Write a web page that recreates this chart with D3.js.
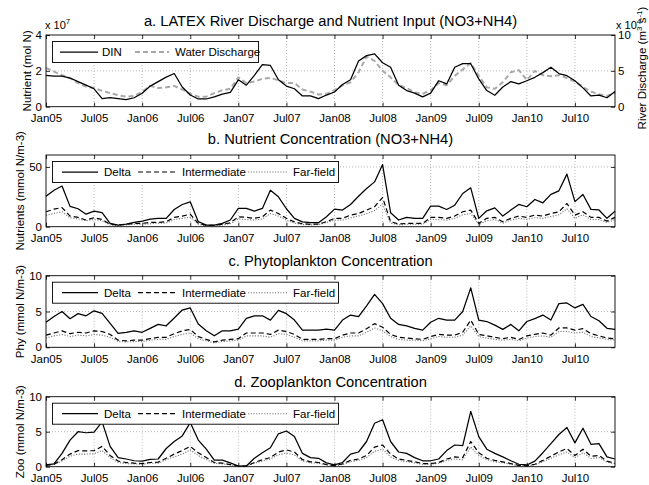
<!DOCTYPE html>
<html>
<head>
<meta charset="utf-8">
<script src="https://cdn.jsdelivr.net/npm/d3@7"></script>
<style>
  body { margin: 0; background: #fff; }
  text { font-family: "Liberation Sans", Arial, Helvetica, sans-serif; fill: #000; }
</style>
</head>
<body>
<svg id="chart" width="649" height="485"></svg>
<script>
// Monthly series, Jan 2005 – Dec 2010 (72 months)
const tickMonths = [0, 6, 12, 18, 24, 30, 36, 42, 48, 54, 60, 66];
const tickLabels = ["Jan05", "Jul05", "Jan06", "Jul06", "Jan07", "Jul07",
                    "Jan08", "Jul08", "Jan09", "Jul09", "Jan10", "Jul10"];

// a. DIN input (x10^7 mol N) and river discharge (x10^4 m3 s-1)
const dinFlux = [
  1.75, 1.7, 1.7, 1.6, 1.4, 1.2, 1.0, 0.45, 0.5, 0.45, 0.4, 0.5,
  0.75, 1.15, 1.4, 1.65, 1.85, 1.1, 0.65, 0.43, 0.43, 0.55, 0.7, 0.8,
  1.5, 1.2, 1.75, 2.35, 2.3, 1.5, 1.15, 1.0, 0.6, 0.6, 0.45, 0.65,
  0.82, 1.24, 1.5, 2.55, 2.85, 2.95, 2.45, 2.2, 1.2, 0.9, 0.76, 0.55,
  0.76, 1.45, 1.27, 2.2, 2.4, 2.4, 1.55, 0.9, 0.64, 1.1, 1.4, 1.27,
  1.45, 1.64, 1.9, 2.2, 1.85, 1.73, 1.45, 1.05, 0.6, 0.65, 0.5, 0.85
];
const waterDischarge = [
  5.4, 4.9, 4.4, 4.0, 3.3, 2.8, 2.6, 2.2, 1.9, 1.6, 1.4, 1.5,
  2.1, 2.9, 2.6, 2.7, 2.9, 2.4, 1.8, 1.4, 1.4, 1.9, 2.3, 2.5,
  4.1, 3.3, 3.5, 3.9, 4.0, 3.7, 3.3, 3.3, 2.4, 2.1, 1.7, 1.8,
  2.3, 3.0, 3.4, 4.8, 7.0, 6.4, 5.0, 4.1, 3.0, 2.6, 2.0, 1.8,
  2.3, 3.3, 3.0, 4.3, 5.2, 6.1, 4.3, 2.7, 2.5, 3.4, 4.8, 5.1,
  3.7, 5.0, 4.4, 4.25, 4.4, 4.0, 3.5, 2.75, 2.1, 1.75, 1.5, 1.9
];

// b. Nutrient concentration (mmol N m-3)
const nutDelta = [
  25.5, 30.5, 34, 17, 15, 10.5, 13, 11.7, 2.8, 1.4, 2.2, 3.6,
  4.7, 6.4, 7, 7, 14.4, 18.6, 20.8, 4.2, 1.4, 1.4, 2.8, 5.6,
  15.3, 15.3, 13, 15.3, 30.5, 25, 15, 7, 4, 3.4, 3.4, 8.3,
  14.7, 13.9, 18.6, 25.5, 32, 37.5, 52, 11.7, 5.6, 7.8, 7, 7,
  17.2, 17.2, 14.4, 18, 27.8, 32.5, 7, 13.3, 15.8, 8.9, 13.9, 18.6,
  16.7, 22.8, 20, 27, 30, 44, 21, 27, 14.5, 14, 7, 13
];
const nutInter = [
  12.5, 14.7, 16, 8.9, 7.8, 5.6, 7.5, 6.1, 2, 1.4, 2, 2.8,
  2.8, 3.6, 3.6, 4.2, 7.8, 8.9, 10.5, 2.8, 1.1, 1.1, 2, 3.3,
  8.3, 7.8, 7, 8.3, 13.9, 11, 7, 4, 2.5, 2, 2.2, 4.2,
  7, 7, 9.7, 11, 13.9, 16.7, 24.4, 4.2, 2.2, 2.8, 2.8, 2.8,
  7.8, 7.8, 7, 8.9, 12.5, 13.9, 2.8, 7, 7.8, 4.2, 7, 8.9,
  7.8, 9.7, 8.9, 11, 12.5, 19.4, 9.7, 12.5, 7.8, 7.8, 4.7, 7.8
];
const nutFar = [
  9.5, 11, 12.5, 7.5, 6.5, 5, 6, 5, 1.5, 1, 1.5, 2,
  2, 2.5, 3, 3, 6, 7, 8, 2, 0.8, 0.8, 1.5, 2.5,
  6.5, 6, 5.5, 6.5, 11, 9, 5.5, 3, 1.8, 1.5, 1.8, 3.5,
  5.5, 5.5, 7.5, 9, 11, 13.5, 19, 3, 1.5, 2, 2, 2,
  6, 6, 5.5, 7, 10, 11, 1.8, 5, 6, 3, 5.5, 7,
  6, 7.5, 7, 8.5, 10, 15, 7, 10, 6, 6, 3.5, 6
];

// c. Phytoplankton concentration (mmol N m-3)
const phyDelta = [
  3.5, 4.3, 5.0, 4.0, 4.7, 4.4, 5.1, 4.75, 3.35, 1.95, 2.1, 2.3,
  2.1, 2.65, 3.2, 3.0, 4.1, 5.2, 5.5, 3.25, 2.3, 1.6, 2.3, 2.3,
  2.55, 4.05, 4.4, 4.4, 3.8, 5.15, 4.7, 3.8, 2.4, 2.4, 2.4, 2.55,
  2.4, 3.8, 4.5, 4.3, 5.8, 7.4, 6.1, 4.05, 3.2, 3.0, 2.65, 2.4,
  3.5, 4.05, 3.8, 3.8, 5.0, 8.3, 3.8, 3.6, 3.1, 2.5, 3.2, 2.3,
  3.6, 4.0, 4.5, 3.8, 6.1, 6.2, 5.5, 6.0, 4.3, 3.7, 2.65, 2.5
];
const phyInter = [
  1.7, 2.0, 2.3, 1.9, 2.1, 2.0, 2.3, 2.2, 1.8, 1.0, 0.9, 1.0,
  1.0, 1.2, 1.4, 1.4, 1.9, 2.3, 2.5, 1.5, 1.1, 0.75, 1.0, 1.1,
  1.2, 2.0, 2.0, 2.0, 1.8, 2.4, 2.2, 1.8, 1.1, 1.1, 1.1, 1.2,
  1.2, 1.7, 2.0, 2.0, 2.6, 3.3, 2.8, 1.8, 1.4, 1.3, 1.2, 1.1,
  1.5, 1.8, 1.7, 1.7, 2.1, 3.8, 1.8, 1.6, 1.4, 1.2, 1.4, 1.1,
  1.6, 1.8, 2.0, 1.7, 2.7, 2.7, 2.4, 2.6, 1.9, 1.6, 1.3, 1.2
];
const phyFar = [
  1.3, 1.6, 1.8, 1.5, 1.7, 1.6, 1.8, 1.7, 1.4, 0.8, 0.75, 0.8,
  0.8, 1.0, 1.1, 1.1, 1.5, 1.8, 2.0, 1.2, 0.9, 0.6, 0.8, 0.9,
  1.0, 1.6, 1.6, 1.6, 1.4, 1.9, 1.8, 1.4, 0.9, 0.9, 0.9, 1.0,
  1.0, 1.4, 1.6, 1.6, 2.1, 2.7, 2.3, 1.5, 1.1, 1.0, 1.0, 0.9,
  1.2, 1.5, 1.4, 1.4, 1.7, 3.0, 1.5, 1.3, 1.1, 1.0, 1.1, 0.9,
  1.3, 1.5, 1.6, 1.4, 2.2, 2.2, 2.0, 2.1, 1.5, 1.3, 1.1, 1.0
];

// d. Zooplankton concentration (mmol N m-3)
const zooDelta = [
  0.25, 0.4, 1.9, 3.8, 5.0, 4.85, 4.95, 6.4, 2.9, 1.3, 1.1, 0.85,
  0.8, 1.05, 1.1, 2.6, 3.6, 4.4, 6.3, 3.8, 2.5, 0.95, 0.95, 0.55,
  0.1, 0.1, 1.2, 2.0, 2.7, 4.7, 5.1, 4.3, 1.9, 1.3, 1.2, 0.55,
  0.25, 0.6, 1.8, 2.1, 3.6, 6.2, 6.7, 3.6, 2.1, 1.9, 1.3, 0.85,
  0.85, 1.1, 2.3, 3.1, 3.0, 7.9, 4.3, 2.5, 1.9, 1.4, 0.85, 0.35,
  0.25, 0.8, 2.0, 3.3, 4.6, 5.6, 3.4, 5.5, 3.2, 3.3, 1.4, 1.1
];
const zooInter = [
  0.2, 0.35, 1.0, 1.8, 2.3, 2.25, 2.3, 2.9, 1.6, 0.8, 0.6, 0.5,
  0.45, 0.6, 0.65, 1.2, 1.8, 2.3, 2.9, 2.0, 1.3, 0.6, 0.5, 0.3,
  0.1, 0.1, 0.6, 1.0, 1.3, 2.1, 2.4, 2.1, 1.0, 0.7, 0.6, 0.3,
  0.15, 0.4, 0.9, 1.1, 1.6, 2.8, 3.1, 1.8, 1.1, 0.9, 0.7, 0.45,
  0.45, 0.6, 1.1, 1.4, 1.3, 3.6, 2.0, 1.2, 0.9, 0.7, 0.45, 0.2,
  0.15, 0.35, 0.9, 1.5, 2.1, 2.6, 1.6, 2.5, 1.5, 1.6, 0.8, 0.5
];
const zooFar = [
  0.15, 0.3, 0.8, 1.5, 1.8, 1.8, 1.85, 2.3, 1.3, 0.6, 0.45, 0.4,
  0.35, 0.5, 0.5, 1.0, 1.4, 1.8, 2.4, 1.6, 1.0, 0.5, 0.4, 0.25,
  0.1, 0.1, 0.5, 0.8, 1.1, 1.7, 1.95, 1.7, 0.8, 0.55, 0.5, 0.25,
  0.12, 0.3, 0.7, 0.9, 1.3, 2.2, 2.5, 1.4, 0.9, 0.7, 0.55, 0.35,
  0.35, 0.5, 0.9, 1.1, 1.0, 2.8, 1.6, 1.0, 0.7, 0.55, 0.35, 0.15,
  0.12, 0.28, 0.7, 1.2, 1.7, 2.1, 1.3, 2.0, 1.2, 1.3, 0.65, 0.4
];

const svg = d3.select("#chart");
const left = 46, right = 615;
const x = d3.scaleLinear().domain([0, 71]).range([left, right]);

const styles = {
  solid:  { stroke: "#000", width: 1.25, dash: null },
  dashed: { stroke: "#000", width: 1.2, dash: "5,3" },
  dotted: { stroke: "#7a7a7a", width: 1.1, dash: "1.2,1.5" },
  river:  { stroke: "#a9a9a9", width: 2, dash: "5,3" }
};

function drawLine(g, values, y, st) {
  const line = d3.line().x((d, i) => x(i)).y(d => y(d));
  g.append("path").datum(values)
    .attr("d", line)
    .attr("fill", "none")
    .attr("stroke", st.stroke)
    .attr("stroke-width", st.width)
    .attr("stroke-linejoin", "round")
    .attr("stroke-dasharray", st.dash);
}

function drawLegend(g, top, boxRight, items) {
  const lg = g.append("g");
  lg.append("rect")
    .attr("x", 52.5).attr("y", top + 6.5)
    .attr("width", boxRight - 52).attr("height", 21)
    .attr("fill", "#fff").attr("stroke", "#000").attr("stroke-width", 0.9);
  const cy = top + 17;
  items.forEach(it => {
    lg.append("line")
      .attr("x1", it.x0).attr("x2", it.x1).attr("y1", cy).attr("y2", cy)
      .attr("stroke", it.style.stroke).attr("stroke-width", it.style.width)
      .attr("stroke-dasharray", it.style.dash);
    lg.append("text").attr("x", it.tx).attr("y", cy + 4)
      .attr("font-size", "11.5px").text(it.label);
  });
}

function drawFrame(g, top, bottom, y, yTicks, rightScale, rightTicks) {
  // dotted grid
  const grid = g.append("g")
    .attr("stroke", "#9a9a9a").attr("stroke-width", 0.7).attr("stroke-dasharray", "1,2");
  tickMonths.filter(m => m > 0).forEach(m => {
    grid.append("line").attr("x1", x(m)).attr("x2", x(m)).attr("y1", top).attr("y2", bottom);
  });
  yTicks.filter(v => y(v) > top + 0.5 && y(v) < bottom - 0.5).forEach(v => {
    grid.append("line").attr("x1", left).attr("x2", right).attr("y1", y(v)).attr("y2", y(v));
  });

  const fmtX = (d) => tickLabels[tickMonths.indexOf(d)];
  const ax = (sel) => sel.call(s => s.select(".domain").remove())
    .call(s => s.selectAll("text").attr("font-size", "11.5px").attr("font-family", null))
    .call(s => s.selectAll("line").attr("stroke", "#000").attr("stroke-width", 0.8));

  g.append("g").attr("transform", `translate(0,${bottom})`)
    .call(d3.axisBottom(x).tickValues(tickMonths).tickFormat(fmtX).tickSize(-4).tickPadding(7.3))
    .call(ax);
  g.append("g").attr("transform", `translate(0,${top})`)
    .call(d3.axisTop(x).tickValues(tickMonths).tickFormat("").tickSize(-4))
    .call(ax);
  g.append("g").attr("transform", `translate(${left},0)`)
    .call(d3.axisLeft(y).tickValues(yTicks).tickFormat(d3.format("d")).tickSize(-4).tickPadding(4))
    .call(ax);
  if (rightScale) {
    g.append("g").attr("transform", `translate(${right},0)`)
      .call(d3.axisRight(rightScale).tickValues(rightTicks).tickFormat(d3.format("d")).tickSize(-4).tickPadding(3))
      .call(ax);
  } else {
    g.append("g").attr("transform", `translate(${right},0)`)
      .call(d3.axisRight(y).tickValues(yTicks).tickFormat("").tickSize(-4))
      .call(ax);
  }
}

function drawBox(g, top, bottom) {
  g.append("rect")
    .attr("x", left).attr("y", top)
    .attr("width", right - left).attr("height", bottom - top)
    .attr("fill", "none").attr("stroke", "#000").attr("stroke-width", 0.9);
}

function title(g, text, yBase) {
  g.append("text").attr("x", (left + right) / 2).attr("y", yBase)
    .attr("text-anchor", "middle").attr("font-size", "14.7px").text(text);
}

function yLabel(g, text, xBase, yc) {
  g.append("text")
    .attr("transform", `translate(${xBase},${yc}) rotate(-90)`)
    .attr("text-anchor", "middle").attr("font-size", "11.5px").text(text);
}

// ---------- Panel a ----------
{
  const top = 35, bottom = 106.7;
  const g = svg.append("g");
  const yL = d3.scaleLinear().domain([0, 4]).range([bottom, top]);
  const yR = d3.scaleLinear().domain([0, 10]).range([bottom, top]);
  title(g, "a. LATEX River Discharge and Nutrient Input (NO3+NH4)", 26);
  drawFrame(g, top, bottom, yL, [0, 2, 4], yR, [0, 5, 10]);
  drawLine(g, waterDischarge, yR, styles.river);
  drawLine(g, dinFlux, yL, styles.solid);
  drawBox(g, top, bottom);
  drawLegend(g, top, 258, [
    { x0: 60, x1: 98, tx: 102, label: "DIN", style: styles.solid },
    { x0: 135, x1: 169, tx: 175, label: "Water Discharge", style: styles.river }
  ]);
  // exponent annotations
  const e1 = g.append("text").attr("x", 45).attr("y", 28.5).attr("font-size", "11px");
  e1.append("tspan").text("x 10");
  e1.append("tspan").attr("dy", -5).attr("font-size", "8px").text("7");
  const e2 = g.append("text").attr("x", 616).attr("y", 28.5).attr("font-size", "11px");
  e2.append("tspan").text("x 10");
  e2.append("tspan").attr("dy", -5).attr("font-size", "8px").text("4");
  yLabel(g, "Nutrient (mol N)", 31, (top + bottom) / 2);
  const r = g.append("text")
    .attr("transform", `translate(646,68) rotate(-90)`)
    .attr("text-anchor", "middle").attr("font-size", "11.5px");
  r.append("tspan").text("River Discharge (m");
  r.append("tspan").attr("dy", -4).attr("font-size", "8px").text("3");
  r.append("tspan").attr("dy", 4).text(" s");
  r.append("tspan").attr("dy", -4).attr("font-size", "8px").text("-1");
  r.append("tspan").attr("dy", 4).text(")");
}

// ---------- Panels b, c, d ----------
const concPanels = [
  { top: 155, bottom: 226.7, domain: [0, 60], ticks: [0, 50], titleY: 144,
    title: "b. Nutrient Concentration (NO3+NH4)", label: "Nutrients (mmol N/m-3)",
    data: [nutDelta, nutInter, nutFar] },
  { top: 275.7, bottom: 347.3, domain: [0, 10], ticks: [0, 5, 10], titleY: 266,
    title: "c. Phytoplankton Concentration", label: "Phy (mmol N/m-3)",
    data: [phyDelta, phyInter, phyFar] },
  { top: 396.7, bottom: 466.7, domain: [0, 10], ticks: [0, 5, 10], titleY: 387,
    title: "d. Zooplankton Concentration", label: "Zoo (mmol N/m-3)",
    data: [zooDelta, zooInter, zooFar] }
];

concPanels.forEach(p => {
  const g = svg.append("g");
  const y = d3.scaleLinear().domain(p.domain).range([p.bottom, p.top]);
  title(g, p.title, p.titleY);
  drawFrame(g, p.top, p.bottom, y, p.ticks, null, null);
  drawLine(g, p.data[2], y, styles.dotted);
  drawLine(g, p.data[1], y, styles.dashed);
  drawLine(g, p.data[0], y, styles.solid);
  drawBox(g, p.top, p.bottom);
  drawLegend(g, p.top, 338, [
    { x0: 62, x1: 98, tx: 104, label: "Delta", style: styles.solid },
    { x0: 138, x1: 175, tx: 182, label: "Intermediate", style: styles.dashed },
    { x0: 248, x1: 288, tx: 293, label: "Far-field", style: styles.dotted }
  ]);
  yLabel(g, p.label, 24, (p.top + p.bottom) / 2);
});
</script>
</body>
</html>
